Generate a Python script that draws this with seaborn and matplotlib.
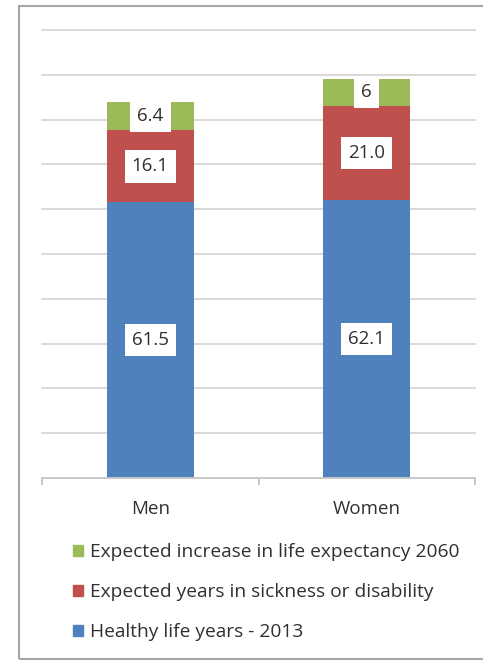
import pandas as pd
import matplotlib.pyplot as plt
import seaborn as sns
from matplotlib.patches import Rectangle

# values
groups = ['Men', 'Women']
healthy = [61.5, 62.1]
sickness = [16.1, 21.0]
increase = [6.4, 6.0]
increase_labels = ['6.4', '6']
series_names = ['Expected increase in life expectancy 2060',
                'Expected years in sickness or disability',
                'Healthy life years - 2013']

blue, red, green = '#4F81BD', '#C0504D', '#9BBB59'

sns.set_style('white')
plt.rcParams['font.family'] = ['Open Sans', 'DejaVu Sans']

df = pd.DataFrame({'group': groups, 'healthy': healthy,
                   'sickness': sickness, 'increase': increase})
df['lvl2'] = df['healthy'] + df['sickness']
df['lvl3'] = df['lvl2'] + df['increase']

fig = plt.figure(figsize=(4.83, 6.6), dpi=100)
ax = fig.add_axes([42 / 483, 1 - 478 / 660, 433 / 483, 448 / 660])

# stacked by overdrawing cumulative totals
bar_kw = dict(width=0.4, saturation=1, linewidth=0, edgecolor='none', ax=ax, zorder=2)
sns.barplot(data=df, x='group', y='lvl3', color=green, **bar_kw)
sns.barplot(data=df, x='group', y='lvl2', color=red, **bar_kw)
sns.barplot(data=df, x='group', y='healthy', color=blue, **bar_kw)

ax.set_ylim(0, 100)
ax.set_xlim(-0.5, 1.5)
ax.set_yticks(range(10, 101, 10))
ax.yaxis.grid(True, color='#d9d9d9', linewidth=1.4, zorder=0)
for gl in ax.get_ygridlines():
    gl.set_clip_on(False)
ax.set_axisbelow(True)
ax.set_yticklabels([])
ax.tick_params(axis='y', length=0)
ax.set_xlabel('')
ax.set_ylabel('')
for s in ['left', 'right', 'top']:
    ax.spines[s].set_visible(False)
ax.spines['bottom'].set_color('#c8c8c8')
ax.spines['bottom'].set_linewidth(1.4)
ax.set_xticks([-0.5, 0.5, 1.5], minor=True)
ax.tick_params(axis='x', which='major', bottom=False, labelsize=13.5, pad=12, labelcolor='#303030')
ax.tick_params(axis='x', which='minor', bottom=True, length=5, width=1.4, color='#c8c8c8')

box = dict(boxstyle='square,pad=0.38', facecolor='white', edgecolor='none')
lab_kw = dict(ha='center', va='center', fontsize=13.5, color='#303030', bbox=box, zorder=5)
for i in range(len(groups)):
    ax.text(i, healthy[i] / 2, f'{healthy[i]:.1f}', **lab_kw)
    ax.text(i, healthy[i] + sickness[i] / 2, f'{sickness[i]:.1f}', **lab_kw)
    ax.text(i, df['lvl2'][i] + increase[i] / 2, increase_labels[i], **lab_kw)

handles = [Rectangle((0, 0), 1, 1, color=c) for c in [green, red, blue]]
fig.legend(handles, series_names, loc='upper left', bbox_to_anchor=(56 / 483, 1 - 526 / 660),
           frameon=False, fontsize=13.8, handlelength=0.5, handleheight=0.5,
           handletextpad=0.4, labelspacing=1.15, labelcolor='#303030')

# outer chart frame
fig.patches.append(Rectangle((19 / 483, 1 / 660), 1.0, 653 / 660, transform=fig.transFigure,
                             fill=False, edgecolor='#a6a6a6', linewidth=1.5))

plt.savefig('out.png', dpi=100)
